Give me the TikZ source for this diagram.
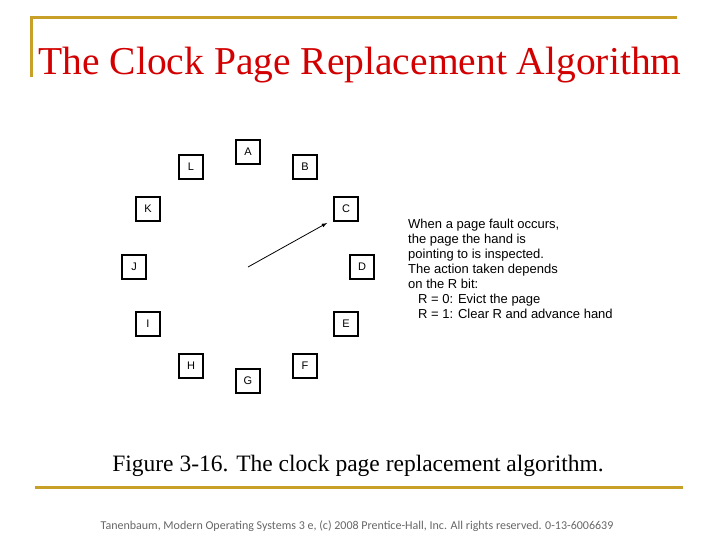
\documentclass[tikz,border=0pt]{standalone}
\usepackage{fontspec}
\setmainfont{Liberation Serif}
\newfontfamily\arial{Liberation Sans}
\newfontfamily\cali{Carlito}
\definecolor{gold}{RGB}{200,160,40}
\definecolor{tred}{RGB}{210,0,0}
\begin{document}
\begin{tikzpicture}[x=1pt,y=-1pt,
  pg/.style={draw,line width=1.2pt,minimum size=24pt,inner sep=0pt,font=\arial\fontsize{11}{12}\selectfont}]
\useasboundingbox (0,0) rectangle (720,540);
\draw[gold,line width=3pt] (30,18) -- (677,18);
\draw[gold,line width=3pt] (31,17) -- (31,77);
\draw[gold,line width=3pt] (35,487) -- (683,487);
\node[tred,font=\fontsize{39.5}{42}\selectfont] (title) at (360,65) {The Clock Page Replacement Algorithm};
\node (A) [pg] at (248,152) {A};
\node (B) [pg] at (305,167) {B};
\node (C) [pg] at (346,209) {C};
\node (D) [pg] at (362,267) {D};
\node (E) [pg] at (346,324) {E};
\node (F) [pg] at (305,366) {F};
\node (G) [pg] at (248,381) {G};
\node (H) [pg] at (191,366) {H};
\node (I) [pg] at (148,324) {I};
\node (J) [pg] at (134,267) {J};
\node (K) [pg] at (148,209) {K};
\node (L) [pg] at (191,167) {L};
\coordinate (ctr) at (248,267);
\coordinate (tip) at (327,223);
\draw[-latex,line width=0.8pt] (ctr) -- (tip);
\node[anchor=north west,align=left,inner sep=0pt,font=\arial\fontsize{13}{15}\selectfont] (txt) at (408,219) {When a page fault occurs,\\the page the hand is\\pointing to is inspected.\\The action taken depends\\on the R bit:\\\hspace*{10pt}R = 0: Evict the page\\\hspace*{10pt}R = 1: Clear R and advance hand};
\node[font=\fontsize{23.5}{26}\selectfont] (cap) at (358,466) {Figure 3-16. The clock page replacement algorithm.};
\node[font=\cali\fontsize{12}{14}\selectfont,gray!80!black] (foot) at (357,526) {Tanenbaum, Modern Operating Systems 3 e, (c) 2008 Prentice-Hall, Inc. All rights reserved. 0-13-6006639};
\end{tikzpicture}
\end{document}
